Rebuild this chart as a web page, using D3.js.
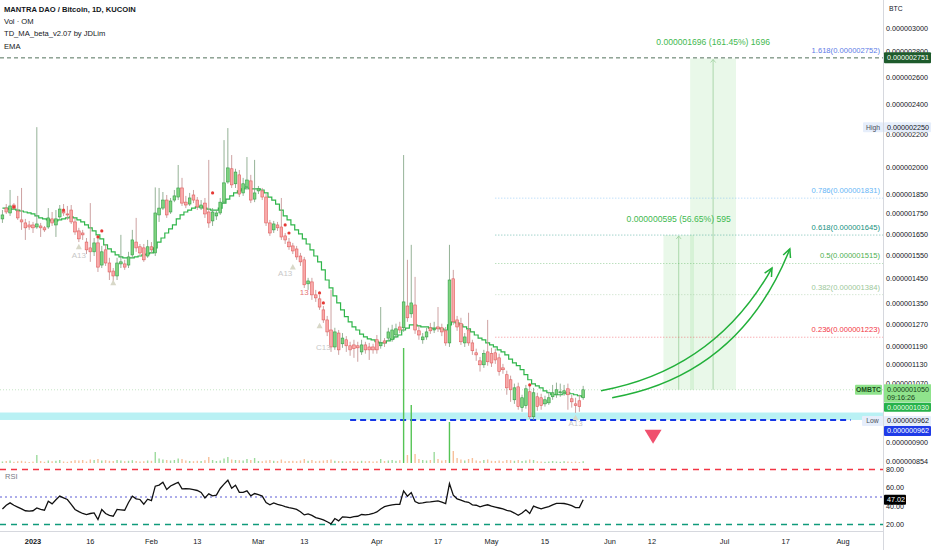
<!DOCTYPE html>
<html><head><meta charset="utf-8">
<script src="https://cdn.jsdelivr.net/npm/d3@7"></script>
<style>
body{margin:0;background:#fff;}
svg{display:block;font-family:"Liberation Sans",Arial,sans-serif;}
</style></head><body><svg id="c" width="932" height="550"></svg>
<script>
// ---------- DATA (prices in units of 1e-9 BTC) ----------
const startDate = new Date(2022, 11, 24);
const open  = [1724,1779,1754,1795,1764,1719,1704,1694,1694,1684,1689,1680,1684,1724,1694,1734,1764,1749,1769,1709,1665,1655,1612,1585,1567,1608,1508,1576,1517,1482,1461,1513,1513,1508,1553,1612,1590,1585,1548,1590,1562,1744,1779,1821,1759,1821,1837,1886,1810,1800,1848,1821,1779,1805,1759,1714,1739,1754,1810,1919,1994,1909,1959,1859,1892,1925,1826,1870,1870,1837,1704,1670,1694,1684,1641,1612,1594,1580,1548,1531,1428,1436,1383,1367,1324,1286,1249,1189,1238,1200,1214,1193,1196,1193,1172,1196,1189,1189,1214,1193,1210,1220,1214,1231,1260,1257,1339,1309,1343,1246,1214,1224,1257,1249,1260,1257,1246,1203,1449,1286,1272,1203,1249,1203,1169,1142,1129,1172,1166,1169,1152,1119,1097,1081,1020,1059,997,1003,1044,971,1029,1026,1008,1011,1029,1035,1041,1041,1053,1023,1008,1017,1026];
const high  = [1769,1800,1875,1805,1843,1886,1724,1714,1709,2250,1704,1689,1779,1759,1769,1795,1800,1790,1795,1729,1680,1670,1631,1805,1631,1631,1594,1603,1540,1495,1540,1646,1531,1567,1670,1729,1603,1603,1622,1612,1889,1886,1864,1848,1832,1875,2016,1942,1843,1859,1875,1837,1821,1832,2046,1779,1769,1832,2167,2244,2075,1994,1987,1942,2063,1959,2046,1897,1886,1853,1719,1714,1709,1832,1655,1631,1608,1594,1562,1544,1453,1453,1403,1383,1339,1301,1403,1257,1249,1238,1227,1207,1214,1207,1214,1207,1203,1200,1231,1335,1220,1257,1268,1272,1279,2075,1531,1599,1457,1264,1238,1257,1275,1279,1335,1272,1260,1599,1487,1301,1294,1238,1313,1214,1183,1155,1179,1286,1186,1183,1166,1132,1110,1094,1069,1072,1035,1065,1062,1056,1041,1038,1032,1044,1065,1072,1069,1065,1069,1035,1026,1035,1062];
const low   = [1704,1749,1739,1769,1719,1670,1622,1670,1655,1675,1636,1660,1675,1689,1636,1724,1739,1719,1699,1646,1612,1622,1557,1522,1548,1478,1495,1504,1444,1435,1444,1495,1487,1495,1540,1567,1548,1522,1540,1562,1548,1709,1769,1729,1749,1810,1821,1790,1779,1790,1805,1769,1769,1729,1680,1689,1719,1744,1800,1909,1886,1886,1837,1843,1875,1805,1810,1853,1821,1689,1641,1655,1665,1622,1603,1576,1557,1531,1504,1411,1403,1363,1355,1324,1275,1227,1172,1179,1162,1186,1172,1159,1152,1139,1162,1166,1145,1166,1166,1183,1189,1210,1207,1220,1238,1242,1279,1294,1235,1214,1200,1214,1235,1238,1242,1227,1193,1189,1268,1246,1196,1189,1193,1162,1142,1107,1119,1126,1122,1132,1094,1100,1035,1014,1008,991,985,994,965,962,988,991,1000,1005,1020,1026,1029,1032,991,997,982,985,1020];
const close = [1744,1759,1790,1779,1729,1709,1680,1684,1680,1699,1680,1670,1729,1704,1724,1774,1754,1744,1709,1660,1627,1646,1576,1567,1608,1499,1567,1517,1478,1461,1517,1522,1499,1544,1622,1585,1562,1531,1590,1576,1754,1779,1821,1744,1816,1843,1886,1805,1795,1832,1821,1785,1795,1749,1704,1759,1754,1810,1914,1999,1903,1975,1853,1909,1930,1821,1859,1881,1837,1704,1655,1699,1680,1636,1622,1590,1571,1544,1522,1424,1440,1383,1371,1335,1286,1242,1189,1242,1179,1220,1193,1179,1183,1186,1196,1179,1179,1179,1179,1203,1203,1242,1249,1253,1249,1355,1294,1351,1249,1231,1224,1242,1246,1253,1253,1242,1203,1444,1279,1260,1207,1224,1203,1176,1162,1129,1166,1139,1135,1145,1107,1113,1056,1050,1056,1000,1026,1053,971,1041,1000,1003,1020,1026,1041,1050,1044,1047,1035,1014,1003,1000,1050];
const volume = [15,20,25,12,18,22,15,10,14,80,
  20,12,25,18,22,30,15,12,20,28,25,30,15,35,30,40,25,28,22,20,30,25,18,22,28,20,15,18,25,22,
  110,45,35,30,25,30,45,40,25,20,18,22,20,28,60,30,20,25,45,60,35,30,28,25,40,30,50,
  20,18,25,30,22,20,35,18,20,22,18,25,40,22,30,18,22,25,30,35,22,20,18,15,20,18,15,22,18,20,15,18,40,20,25,30,22,28,
  1150,80,580,90,40,30,25,30,110,40,25,30,410,120,50,35,25,40,50,
  25,20,30,35,22,20,25,18,30,28,22,30,20,25,35,30,18,15,12,15,20,15,12,18,15,12,15,10,18];
const ema = [1779,1779,1774,1774,1769,1764,1759,1754,1749,1739,1729,1724,1719,1714,1714,1719,1724,1729,1734,1729,1719,1709,1694,1680,1665,1646,1627,1599,1580,1567,1553,1544,1540,1540,1540,1544,1548,1553,1557,1562,1585,1612,1631,1655,1675,1694,1724,1744,1759,1769,1779,1785,1785,1779,1774,1769,1769,1779,1805,1826,1843,1859,1870,1881,1886,1881,1881,1881,1875,1859,1837,1821,1800,1769,1739,1719,1694,1670,1651,1627,1603,1576,1548,1522,1487,1444,1411,1379,1351,1324,1298,1279,1260,1249,1234,1224,1217,1214,1207,1203,1203,1210,1217,1224,1231,1249,1256,1268,1268,1264,1260,1260,1256,1256,1256,1253,1249,1268,1279,1275,1268,1260,1253,1242,1231,1220,1214,1203,1196,1189,1179,1172,1162,1148,1135,1126,1113,1097,1081,1068,1062,1056,1047,1041,1035,1035,1035,1038,1041,1038,1035,1032,1029];
const rsi = [37,41,43.6,41,39,37,35,34.5,35,38,36.5,35.6,45.4,42.5,47,51,49,47.3,42,36.4,34,32,30.9,32,32.6,25.5,36.4,32,30,29,36.4,36,35.6,44,50.9,48,47.3,42.1,47.6,46,61.8,63,66.1,58.2,62,64,66.1,58.8,59,58.8,58,57.1,55,49,53.4,51.2,52,59.3,64,68.3,59.6,62.9,55,55,56.7,51.2,53.8,52.5,51,44,41.5,43.6,42,41,39.5,38.3,37.5,36.4,34,30.5,31.5,30,27.6,26.5,25,23,20.7,26.5,23.9,28.3,28,27.6,28.5,29,30.9,30.5,31,32,33.7,37,39.5,40.5,41.5,42,42.1,56.7,50.9,54.9,45,43,43.5,44.5,44.7,45.3,45.8,44.5,42.9,64.7,52,48,46.5,45,44.2,41.5,41,39.2,40.5,41.5,40,39,38,37,35.5,34.5,32.5,30.1,32.6,36,32,40,38.5,37,38.5,39.5,41.5,43,43,42.9,42,40.5,38.5,38.5,47.02];

const priceTicks = [3000,2800,2600,2400,2200,2000,1850,1750,1650,1550,1450,1350,1270,1190,1130,1070,900,854];
const rsiTicks = [80,60,40,20];
const dateTicks = ["2023-01-01","2023-01-16","2023-02-01","2023-02-13","2023-03-01","2023-03-13","2023-04-01","2023-04-17","2023-05-01","2023-05-15","2023-06-01","2023-06-12","2023-07-01","2023-07-17","2023-08-01"];
const dateTickLabels = ["2023","16","Feb","13","Mar","13","Apr","17","May","15","Jun","12","Jul","17","Aug"];

const fibRatios = ["1.618","0.786","0.618","0.5","0.382","0.236"];
const fibPrices = [2752,1831,1645,1515,1384,1223];
const fibColors = ["#5b7be6","#64b5f6","#13907e","#4caf50","#9cc79a","#f23645"];
const fibStart = "2023-05-02";

const projStart = ["2023-06-22","2023-06-15"];
const projEnd = ["2023-07-04","2023-06-23"];
const projBase = [1050,1050];
const projTarget = [2746,1645];
const projLabels = ["0.000001696 (161.45%) 1696","0.000000595 (56.65%) 595"];

const arrowPts = [
  [["2023-05-29T16:00",1047],["2023-06-28T12:00",1113],["2023-07-13T10:00",1495]],
  [["2023-06-01T14:00",1026],["2023-07-05T00:00",1097],["2023-07-18T02:00",1580]]
];
const lowPrice = 962, lowBandTop = 983, lastPrice = 1050, emaPrice = 1030, highPrice = 2250, targetLine = 2751;
const lowLineStart = "2023-03-25", lowLineEnd = "2023-08-03";
const triangleAt = ["2023-06-12T07:00", 935];
const tdDots = [[3,1785],[16,1769],[25,1636],[26,1665],[55,1859],[74,1694],[75,1655],[83,1391],[84,1351],[138,1065]];
const tdLabels = [[20,"A13",1540],[74,"A13",1461],[84,"C13",1179],[150,"A13",944],[79,"13",1383]];
const tdTriangles = [[20,1590],[29,1432],[76,1499],[83,1264],[150,968]];

// ---------- SCALES ----------
const svg = d3.select("#c");
const R = 883;
const parse = s => new Date(s.length > 10 ? s : s + "T00:00");
const dates = open.map((_, i) => d3.timeDay.offset(startDate, i));
const x = d3.scaleTime().domain([new Date(2023,0,1), new Date(2023,7,1)]).range([33, 843]);
const y = d3.scaleLog().domain([3000, 854]).range([28, 461]);
const vy = d3.scaleLinear().domain([0, 1150]).range([463, 348]);
const ry = d3.scaleLinear().domain([20, 80]).range([524.5, 469.5]);
const fmt = v => (v * 1e-9).toFixed(9);

svg.append("defs").append("clipPath").attr("id","pc").append("rect").attr("x",0).attr("y",0).attr("width",R).attr("height",531);
const main = svg.append("g").attr("clip-path","url(#pc)");

// cyan band near low
main.append("rect").attr("x",0).attr("width",R).attr("y",y(lowBandTop)).attr("height",y(lowPrice)-y(lowBandTop)).attr("fill","#b9f1f4");

// projection boxes
projStart.forEach((s,k)=>{
  const x0 = x(parse(s)), x1 = x(parse(projEnd[k]));
  main.append("rect").attr("x",x0).attr("width",x1-x0).attr("y",y(projTarget[k])).attr("height",y(projBase[k])-y(projTarget[k]))
    .attr("fill","rgba(102,204,102,0.14)");
  const xm = (x0+x1)/2;
  main.append("line").attr("x1",xm).attr("x2",xm).attr("y1",y(projBase[k])).attr("y2",y(projTarget[k])+1).attr("stroke","#9ccf9c").attr("stroke-width",0.8);
  main.append("path").attr("d",`M${xm-2.5},${y(projTarget[k])+4}L${xm},${y(projTarget[k])+1}L${xm+2.5},${y(projTarget[k])+4}`).attr("fill","none").attr("stroke","#9ccf9c").attr("stroke-width",0.8);
  svg.append("text").attr("x",xm).attr("y",y(projTarget[k])-13).attr("text-anchor","middle").attr("font-size",8.6).attr("fill","#3fb950").text(projLabels[k]);
});

// fib lines
fibPrices.forEach((p,k)=>{
  if (k>0) main.append("line").attr("x1",x(parse(fibStart))).attr("x2",R).attr("y1",y(p)).attr("y2",y(p))
    .attr("stroke",fibColors[k]).attr("stroke-width",0.8).attr("stroke-dasharray","1,2").attr("opacity",0.7);
  svg.append("text").attr("x",R-3).attr("y",y(p)-5).attr("text-anchor","end").attr("font-size",7.6).attr("fill",fibColors[k])
    .text(`${fibRatios[k]}(${fmt(p)})`);
});

// full-width lines
main.append("line").attr("x1",0).attr("x2",R).attr("y1",y(targetLine)).attr("y2",y(targetLine)).attr("stroke","#40624a").attr("stroke-width",0.9).attr("stroke-dasharray","4,3");
main.append("line").attr("x1",0).attr("x2",R).attr("y1",y(lastPrice)).attr("y2",y(lastPrice)).attr("stroke","#b5ddb5").attr("stroke-width",0.8).attr("stroke-dasharray","1,2");
main.append("line").attr("x1",x(parse(lowLineStart))).attr("x2",x(parse(lowLineEnd))).attr("y1",y(lowPrice)).attr("y2",y(lowPrice))
  .attr("stroke","#1536e6").attr("stroke-width",2).attr("stroke-dasharray","6,4");

// volume
const idx = d3.range(open.length);
const up = i => close[i] >= open[i];
main.selectAll("rect.v").data(idx).join("rect").attr("class","v")
  .attr("x", i => x(dates[i]) - 0.7).attr("width", 1.4)
  .attr("y", i => vy(volume[i])).attr("height", i => vy(0) - vy(volume[i]))
  .attr("fill", i => up(i) ? (volume[i] > 300 ? "#55c455" : "#9ddb9d") : "#f7c09a");

// EMA step line
main.append("path").datum(idx).attr("fill","none").attr("stroke","#2fb54a").attr("stroke-width",1.2)
  .attr("d", d3.line().x(i => x(dates[i])).y(i => y(ema[i])).curve(d3.curveStep));

// candles
const bw = 2.7;
main.selectAll("line.w").data(idx).join("line").attr("class","w")
  .attr("x1", i => x(dates[i])).attr("x2", i => x(dates[i]))
  .attr("y1", i => y(high[i])).attr("y2", i => y(low[i]))
  .attr("stroke", i => up(i) ? "#7a9e7c" : "#c08a8a").attr("stroke-width", 0.8);
main.selectAll("rect.b").data(idx).join("rect").attr("class","b")
  .attr("x", i => x(dates[i]) - bw/2).attr("width", bw)
  .attr("y", i => y(Math.max(open[i], close[i])))
  .attr("height", i => Math.max(0.8, Math.abs(y(open[i]) - y(close[i]))))
  .attr("fill", i => up(i) ? "#7fd37f" : "#f8aaaa")
  .attr("stroke", i => up(i) ? "#2f9e44" : "#e05c5c").attr("stroke-width", 0.6);

// TD markers
main.selectAll("circle.td").data(tdDots).join("circle").attr("cx", d => x(dates[d[0]])).attr("cy", d => y(d[1])).attr("r", 1.6).attr("fill", "#e53935");
main.selectAll("text.td").data(tdLabels).join("text").attr("x", d => x(dates[d[0]])).attr("y", d => y(d[2])).attr("text-anchor","middle")
  .attr("font-size", 8).attr("fill", d => d[1] === "13" ? "#e57373" : "#c8c8c8").text(d => d[1]);
main.selectAll("path.tt").data(tdTriangles).join("path").attr("transform", d => `translate(${x(dates[d[0]])},${y(d[1])})`)
  .attr("d","M0,-3L3,2.5L-3,2.5Z").attr("fill","#d8d8c8");

// arrows
arrowPts.forEach(pts => {
  const P = pts.map(p => [x(parse(p[0])), y(p[1])]);
  main.append("path").attr("d", `M${P[0][0]},${P[0][1]}Q${P[1][0]},${P[1][1]} ${P[2][0]},${P[2][1]}`)
    .attr("fill","none").attr("stroke","#22b03a").attr("stroke-width",1.5);
  const a = Math.atan2(P[2][1]-P[1][1], P[2][0]-P[1][0]), L = 9;
  const h1 = [P[2][0]-L*Math.cos(a-0.45), P[2][1]-L*Math.sin(a-0.45)];
  const h2 = [P[2][0]-L*Math.cos(a+0.45), P[2][1]-L*Math.sin(a+0.45)];
  main.append("path").attr("d", `M${h1[0]},${h1[1]}L${P[2][0]},${P[2][1]}L${h2[0]},${h2[1]}`)
    .attr("fill","none").attr("stroke","#22b03a").attr("stroke-width",1.5);
});

// red triangle
main.append("path").attr("transform", `translate(${x(parse(triangleAt[0]))},${y(triangleAt[1])})`)
  .attr("d","M-8.5,0L8.5,0L0,14Z").attr("fill","#f0506e");

// RSI pane
[[80,"#f23645","6,5",1.4],[50,"#5b5bd6","2,3",1],[20,"#109b7b","6,5",1.4]].forEach(l => {
  main.append("line").attr("x1",0).attr("x2",R).attr("y1",ry(l[0])).attr("y2",ry(l[0])).attr("stroke",l[1]).attr("stroke-width",l[3]).attr("stroke-dasharray",l[2]);
});
main.append("path").datum(idx).attr("fill","none").attr("stroke","#111").attr("stroke-width",1.3)
  .attr("d", d3.line().x(i => x(dates[i])).y(i => ry(rsi[i])));
svg.append("text").attr("x",5).attr("y",479).attr("font-size",7.5).attr("fill","#787b86").text("RSI");

// legend
const leg = ["MANTRA DAO / Bitcoin, 1D, KUCOIN","Vol · OM","TD_MA_beta_v2.07 by JDLim","EMA"];
leg.forEach((t,k)=> svg.append("text").attr("x",4).attr("y",12+k*12.2).attr("font-size",7.6)
  .attr("font-weight", k===0 ? "bold" : "normal").attr("fill","#131722").text(t));

// frame lines
svg.append("line").attr("x1",R+0.5).attr("x2",R+0.5).attr("y1",0).attr("y2",550).attr("stroke","#d6d8de");
svg.append("line").attr("x1",0).attr("x2",R).attr("y1",531.5).attr("y2",531.5).attr("stroke","#d6d8de");

// price axis
const AX = 886;
svg.append("text").attr("x",889).attr("y",11).attr("font-size",6.8).attr("fill","#131722").text("BTC");
priceTicks.forEach(p => svg.append("text").attr("x",AX).attr("y",y(p)+2.5).attr("font-size",7.2).attr("fill","#131722").text(fmt(p)));
rsiTicks.forEach(v => svg.append("text").attr("x",AX).attr("y",ry(v)+2.5).attr("font-size",7.2).attr("fill","#131722").text(v.toFixed(2)));

function box(x0, yc, w, h, bg, txt, col, anchor, fs, bold){
  svg.append("rect").attr("x",x0).attr("y",yc-h/2).attr("width",w).attr("height",h).attr("fill",bg).attr("rx",1);
  svg.append("text").attr("x", anchor==="middle" ? x0+w/2 : x0+3).attr("y",yc+2.5).attr("text-anchor",anchor||"start")
    .attr("font-size",fs||7.2).attr("font-weight",bold?"bold":"normal").attr("fill",col).text(txt);
}
box(884, y(targetLine), 47, 11, "#1e5b2c", fmt(targetLine), "#ffffff");
box(863, y(highPrice), 20, 10, "#e6eefb", "High", "#4a4e5a", "middle", 6.8);
box(884, y(highPrice), 47, 10, "#e6eefb", fmt(highPrice), "#131722");
box(855, y(lastPrice), 27, 10, "#8fe38c", "OMBTC", "#1b4d1b", "middle", 6.8, true);
svg.append("rect").attr("x",884).attr("y",y(lastPrice)-5.5).attr("width",47).attr("height",18).attr("fill","#8fe38c");
svg.append("text").attr("x",AX+1).attr("y",y(lastPrice)+2.5).attr("font-size",7.2).attr("fill","#173d17").text(fmt(lastPrice));
svg.append("text").attr("x",AX+1).attr("y",y(lastPrice)+10.5).attr("font-size",7.2).attr("fill","#173d17").text("09:16:26");
box(884, y(lastPrice)+17.5, 47, 9, "#27b24b", fmt(emaPrice), "#e9ffe9");
box(862, y(lowPrice)+1, 21, 10, "#e6eefb", "Low", "#4a4e5a", "middle", 6.8);
box(884, y(lowPrice)+1, 47, 10, "#e6eefb", fmt(lowPrice), "#131722");
box(884, y(lowPrice)+11, 47, 10, "#1f3be8", fmt(lowPrice), "#ffffff");
box(884, ry(rsi[rsi.length-1]), 22, 10, "#000000", rsi[rsi.length-1].toFixed(2), "#ffffff");

// date axis
dateTicks.forEach((d,k) => svg.append("text").attr("x", x(parse(d))).attr("y", 544).attr("text-anchor","middle")
  .attr("font-size",7.4).attr("font-weight", k===0 ? "bold" : "normal").attr("fill","#131722").text(dateTickLabels[k]));
</script></body></html>
